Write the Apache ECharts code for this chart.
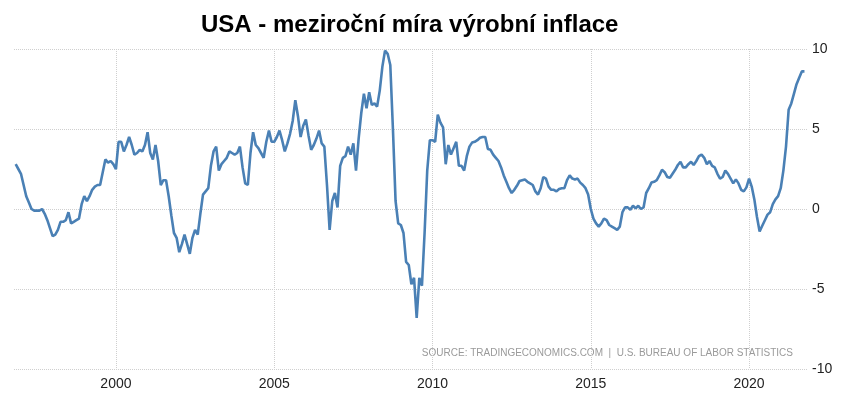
<!DOCTYPE html>
<html>
<head>
<meta charset="utf-8">
<script src="https://cdn.jsdelivr.net/npm/echarts@6/dist/echarts.min.js"></script>
<style>
  html, body { margin: 0; padding: 0; background: #fff; }
  #main { width: 845px; height: 399px; }
</style>
</head>
<body>
<div id="main"></div>
<script>
// monthly PPI y/y change, first value = Nov 1996
var startYear = 1996;
var startMonth = 11;
var values = [
  2.8, 2.5,
  2.2, 1.5, 0.8, 0.4, 0.0, -0.1, -0.1, -0.1, 0.0, -0.3, -0.7, -1.2,
  -1.7, -1.6, -1.3, -0.8, -0.8, -0.7, -0.2, -0.9, -0.8, -0.7, -0.6, 0.3,
  0.8, 0.5, 0.8, 1.2, 1.4, 1.5, 1.5, 2.3, 3.1, 2.9, 3.0, 2.8,
  2.5, 4.2, 4.2, 3.6, 4.0, 4.5, 4.0, 3.4, 3.5, 3.7, 3.6, 4.0,
  4.8, 3.5, 3.1, 4.0, 3.0, 1.5, 1.8, 1.8, 0.8, -0.4, -1.5, -1.8,
  -2.7, -2.2, -1.6, -2.2, -2.8, -1.8, -1.3, -1.6, -0.3, 0.9, 1.1, 1.3,
  2.7, 3.6, 3.9, 2.4, 2.8, 3.0, 3.2, 3.6, 3.5, 3.4, 3.5, 3.9,
  2.6, 1.6, 1.5, 3.5, 4.8, 4.0, 3.8, 3.5, 3.2, 4.2, 4.9, 4.2,
  4.2, 4.5, 4.9, 4.3, 3.6, 4.1, 4.7, 5.5, 6.8, 5.8, 4.5, 5.2,
  5.6, 4.6, 3.7, 4.0, 4.4, 4.9, 4.1, 3.9, 1.5, -1.3, 0.5, 1.0,
  0.1, 2.7, 3.2, 3.3, 3.9, 3.4, 4.1, 2.4, 4.4, 6.0, 7.2, 6.3,
  7.3, 6.5, 6.6, 6.4, 7.4, 8.9, 9.9, 9.7, 9.0, 5.0, 0.5, -0.9,
  -1.0, -1.5, -3.3, -3.5, -4.7, -4.3, -6.8, -4.3, -4.8, -1.5, 2.4, 4.3,
  4.3, 4.2, 5.9, 5.4, 5.1, 2.8, 4.0, 3.4, 3.8, 4.2, 2.7, 2.7,
  2.4, 3.3, 3.9, 4.15, 4.2, 4.3, 4.45, 4.5, 4.5, 3.75, 3.7, 3.4,
  3.2, 3.0, 2.6, 2.1, 1.7, 1.3, 1.0, 1.2, 1.45, 1.75, 1.8, 1.85,
  1.7, 1.6, 1.5, 1.1, 0.9, 1.3, 2.0, 1.9, 1.4, 1.2, 1.2, 1.1,
  1.25, 1.3, 1.3, 1.8, 2.1, 1.9, 1.85, 1.9, 1.65, 1.5, 1.3, 0.9,
  0.0, -0.6, -0.9, -1.1, -0.9, -0.6, -0.7, -1.0, -1.1, -1.2, -1.3, -1.1,
  -0.2, 0.1, 0.1, -0.05, 0.2, 0.05, 0.2, 0.0, 0.1, 1.0, 1.3, 1.65,
  1.7, 1.8, 2.1, 2.45, 2.3, 2.0, 1.95, 2.2, 2.45, 2.75, 2.95, 2.6,
  2.6, 2.8, 2.95, 2.75, 3.0, 3.3, 3.4, 3.2, 2.8, 3.0, 2.7, 2.6,
  2.2, 1.9, 2.0, 2.4, 2.2, 1.9, 1.6, 1.85, 1.6, 1.2, 1.1, 1.35,
  1.9, 1.4, 0.6, -0.5, -1.4, -1.05, -0.7, -0.35, -0.2, 0.3, 0.6, 0.8,
  1.3, 2.4, 3.9, 6.2, 6.6, 7.2, 7.8, 8.2, 8.6, 8.6
];
var yMin = -10, yMax = 10, yStep = 5;

// x as decimal year
var points = values.map(function (v, i) {
  var m = startMonth - 1 + i;
  return [startYear + Math.floor(m / 12) + (m % 12) / 12, v];
});

var chart = echarts.init(document.getElementById('main'));
chart.setOption({
  animation: false,
  title: {
    text: 'USA - meziroční míra výrobní inflace',
    left: 196,
    top: 8,
    textStyle: { fontFamily: 'Liberation Sans', fontSize: 24, fontWeight: 'bold', color: '#000' }
  },
  grid: { left: 14, right: 38, top: 49, bottom: 30 },
  xAxis: {
    type: 'value',
    min: 1996.78,
    max: 2021.83,
    splitNumber: 5,
    axisLine: { show: false },
    axisTick: { show: false },
    axisLabel: {
      showMinLabel: false,
      showMaxLabel: false,
      margin: 8,
      color: '#222',
      fontFamily: 'Liberation Sans',
      fontSize: 14,
      formatter: function (v) { return String(Math.round(v)); }
    },
    splitLine: {
      show: true,
      showMinLine: false,
      showMaxLine: false,
      lineStyle: { color: '#cfcfcf', type: 'dotted', width: 1 }
    }
  },
  yAxis: {
    type: 'value',
    position: 'right',
    min: yMin,
    max: yMax,
    interval: yStep,
    axisLine: { show: false },
    axisTick: { show: false },
    axisLabel: { margin: 5, color: '#222', fontFamily: 'Liberation Sans', fontSize: 14 },
    splitLine: { lineStyle: { color: '#cfcfcf', type: 'dotted', width: 1 } }
  },
  graphic: [{
    type: 'text',
    right: 52,
    top: 348,
    style: {
      text: 'SOURCE: TRADINGECONOMICS.COM  |  U.S. BUREAU OF LABOR STATISTICS',
      fill: '#9a9a9a',
      font: '10px "Liberation Sans"'
    }
  }],
  series: [{
    type: 'line',
    data: points,
    showSymbol: false,
    lineStyle: { color: '#4a80b5', width: 2.6 },
    silent: true
  }]
});
</script>
</body>
</html>
